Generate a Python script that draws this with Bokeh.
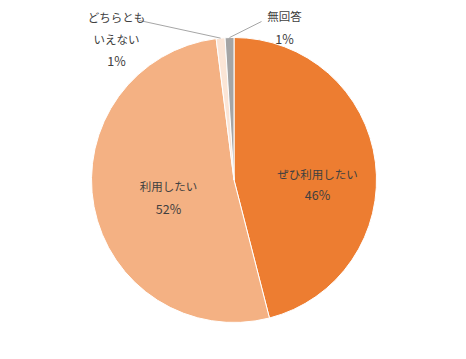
import math
from bokeh.plotting import figure
from bokeh.models import Range1d, ColumnDataSource
from bokeh.core.properties import value
from bokeh.embed import file_html
from bokeh.resources import INLINE

# ---- data ----
categories = ["ぜひ利用したい", "利用したい", "どちらとも\nいえない", "無回答"]
values = [46, 52, 1, 1]
colors = ["#ED7D31", "#F4B183", "#FBE5D6", "#A5A5A5"]

# ---- layout (reference pixel coordinates, y measured from top) ----
W, H = 450, 343
CX, CY, R = 233.5, 179.5, 142.5
# label anchor (x, y of first line), line spacing
label_pos = [(317, 173), (168, 185), (116, 16), (284, 15)]
line_gap = [21, 23, 22, 23]
leader_start = [None, None, (139, 20), (261, 21)]

def fy(y):
    return H - y

p = figure(width=W, height=H, output_backend="svg", toolbar_location=None,
           x_range=Range1d(0, W), y_range=Range1d(0, H),
           min_border=0)
p.axis.visible = False
p.grid.visible = False
p.outline_line_color = None
p.background_fill_color = "white"

total = sum(values)
starts, ends, mids = [], [], []
cum = 0.0
for v in values:
    a0 = math.pi / 2 - 2 * math.pi * cum / total
    cum += v
    a1 = math.pi / 2 - 2 * math.pi * cum / total
    starts.append(a0)
    ends.append(a1)
    mids.append((a0 + a1) / 2)

src = ColumnDataSource(dict(x=[CX] * len(values), y=[fy(CY)] * len(values),
                            start=starts, end=ends, color=colors))
p.wedge(x="x", y="y", radius=R, start_angle="start", end_angle="end",
        direction="clock", fill_color="color", line_color="white",
        line_width=1, source=src)

# leader lines
for i, ls in enumerate(leader_start):
    if ls is None:
        continue
    ex = CX + R * math.cos(mids[i])
    ey = fy(CY) + R * math.sin(mids[i])
    p.line([ls[0], ex], [fy(ls[1]), ey], line_color="#A6A6A6", line_width=1)

# labels
tx, ty, tt, ts = [], [], [], []
for i, (cat, v) in enumerate(zip(categories, values)):
    lines = cat.split("\n") + [f"{v}%"]
    x0, y0 = label_pos[i]
    for j, t in enumerate(lines):
        tx.append(x0)
        ty.append(fy(y0 + j * line_gap[i]))
        tt.append(t)
        ts.append("12.5px" if t.endswith("%") else "11.5px")

p.text(x=tx, y=ty, text=tt, text_align="center", text_baseline="middle",
       text_font=value("Noto Sans CJK JP"), text_font_size=ts,
       text_color="#404040")

open("out.html", "w").write(file_html(p, INLINE))
